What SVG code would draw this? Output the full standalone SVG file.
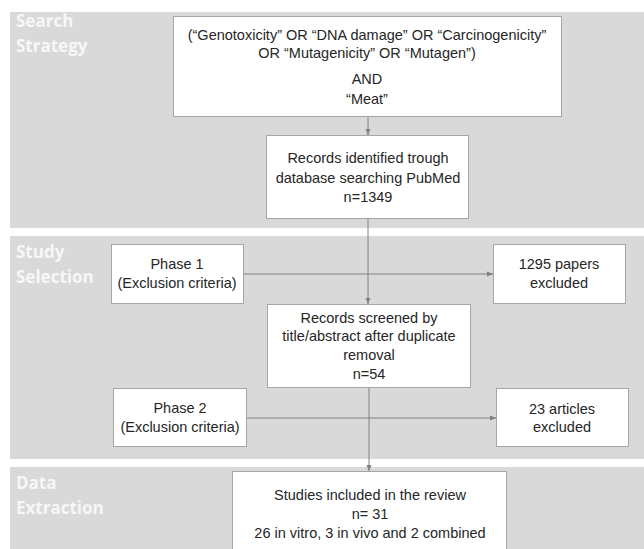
<svg xmlns="http://www.w3.org/2000/svg" width="644" height="549" viewBox="0 0 644 549">
<style>
.band{fill:#d9d9d9}
.box{fill:#ffffff;stroke:#a6a6a6;stroke-width:1}
.t{font-family:"Liberation Sans",Arial,sans-serif;font-size:14.5px;fill:#262626;text-anchor:middle}
.lbl{font-family:"Open Sans","Liberation Sans",sans-serif;font-weight:bold;font-size:17px;fill:#f7f7f7}
.c{stroke:#808080;stroke-width:1;fill:none;marker-end:url(#ah)}
</style>
<defs>
<marker id="ah" viewBox="0 0 6 6" refX="6" refY="3" markerWidth="6" markerHeight="6" orient="auto" markerUnits="userSpaceOnUse">
<path d="M0,0.5 L6,3 L0,5.5 z" fill="#808080"/>
</marker>
</defs>
<rect width="644" height="549" fill="#ffffff"/>
<g id="bands">
<rect class="band" x="10" y="12" width="634" height="216"/>
<rect class="band" x="10" y="236" width="634" height="223"/>
<rect class="band" x="10" y="467" width="634" height="82"/>
<text class="lbl" x="16" y="27">Search</text>
<text class="lbl" x="16" y="52">Strategy</text>
<text class="lbl" x="16" y="258">Study</text>
<text class="lbl" x="16" y="283">Selection</text>
<text class="lbl" x="16" y="489">Data</text>
<text class="lbl" x="16" y="514">Extraction</text>
</g>
<g id="connectors">
<line class="c" x1="368" y1="117" x2="368" y2="135"/>
<line class="c" x1="368" y1="219" x2="368" y2="304"/>
<line class="c" x1="244" y1="274" x2="493" y2="274"/>
<line class="c" x1="369" y1="388" x2="369" y2="471"/>
<line class="c" x1="247" y1="418" x2="496" y2="418"/>
</g>
<g id="query">
<rect class="box" x="173.5" y="16.5" width="388" height="100"/>
<text class="t" x="367" y="40" font-size="14.7">(“Genotoxicity” OR “DNA damage” OR “Carcinogenicity”</text>
<text class="t" x="367" y="58" font-size="14.7">OR “Mutagenicity” OR “Mutagen”)</text>
<text class="t" x="367" y="84" font-size="14.7">AND</text>
<text class="t" x="367" y="104" font-size="14.7">“Meat”</text>
</g>
<g id="identified">
<rect class="box" x="266.5" y="135.5" width="202" height="83"/>
<text class="t" x="368" y="163">Records identified trough</text>
<text class="t" x="368" y="183">database searching PubMed</text>
<text class="t" x="368" y="202">n=1349</text>
</g>
<g id="phase1">
<rect class="box" x="111.5" y="244.5" width="132" height="59"/>
<text class="t" x="177" y="269">Phase 1</text>
<text class="t" x="177" y="288">(Exclusion criteria)</text>
</g>
<g id="excluded1">
<rect class="box" x="493.5" y="244.5" width="132" height="59"/>
<text class="t" x="559" y="269">1295 papers</text>
<text class="t" x="559" y="288">excluded</text>
</g>
<g id="screened">
<rect class="box" x="267.5" y="304.5" width="203" height="83"/>
<text class="t" x="369" y="323">Records screened by</text>
<text class="t" x="369" y="341">title/abstract after duplicate</text>
<text class="t" x="369" y="360">removal</text>
<text class="t" x="369" y="379">n=54</text>
</g>
<g id="phase2">
<rect class="box" x="113.5" y="388.5" width="133" height="58"/>
<text class="t" x="180" y="413">Phase 2</text>
<text class="t" x="180" y="432">(Exclusion criteria)</text>
</g>
<g id="excluded2">
<rect class="box" x="496.5" y="388.5" width="132" height="58"/>
<text class="t" x="562" y="414">23 articles</text>
<text class="t" x="562" y="432">excluded</text>
</g>
<g id="included">
<rect class="box" x="232.5" y="471.5" width="274" height="90"/>
<text class="t" x="370" y="500">Studies included in the review</text>
<text class="t" x="370" y="519">n= 31</text>
<text class="t" x="370" y="538">26 in vitro, 3 in vivo and 2 combined</text>
</g>
</svg>
